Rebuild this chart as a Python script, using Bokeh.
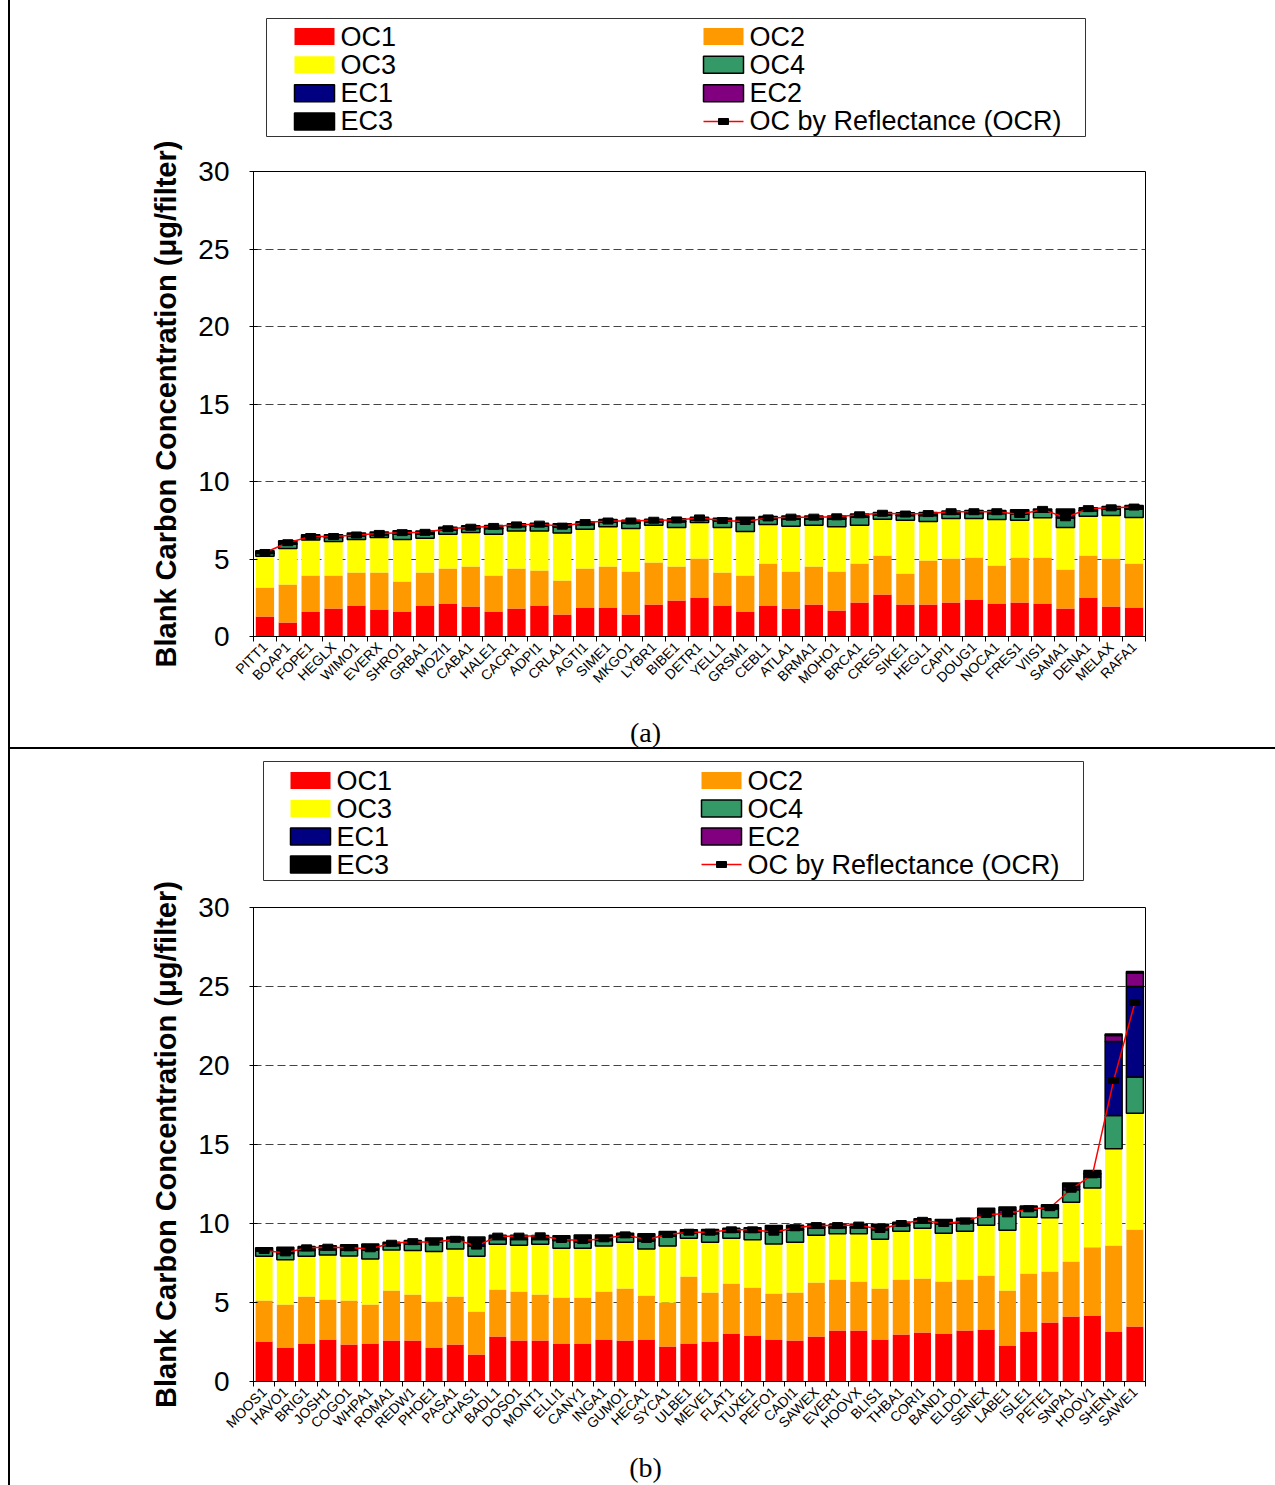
import numpy as np
from bokeh.plotting import figure
from bokeh.models import (Range1d, FixedTicker, Div, Spacer, ColumnDataSource)
from bokeh.layouts import column, row
from bokeh.core.properties import value
from bokeh.embed import file_html
from bokeh.resources import INLINE

components = ["OC1", "OC2", "OC3", "OC4", "EC1", "EC2", "EC3"]
colors = ["#FF0000", "#FF9900", "#FFFF00", "#339966", "#000080", "#800080", "#000000"]
outlined = [False, False, False, True, True, True, True]
ocr_label = "OC by Reflectance (OCR)"
y_title = "Blank Carbon Concentration (μg/filter)"
y_ticks = [0, 5, 10, 15, 20, 25, 30]
# legend entries, row by row (two columns)
legend_order = ["OC1", "OC2", "OC3", "OC4", "EC1", "EC2", "EC3", ocr_label]

# ---------------- Panel (a) ----------------
stations_a = ["PITT1", "BOAP1", "FOPE1", "HEGLX", "WIMO1", "EVERX", "SHRO1", "GRBA1",
              "MOZI1", "CABA1", "HALE1", "CACR1", "ADPI1", "CRLA1", "AGTI1", "SIME1",
              "MKGO1", "LYBR1", "BIBE1", "DETR1", "YELL1", "GRSM1", "CEBL1", "ATLA1",
              "BRMA1", "MOHO1", "BRCA1", "CRES1", "SIKE1", "HEGL1", "CAPI1", "DOUG1",
              "NOCA1", "FRES1", "VIIS1", "SAMA1", "DENA1", "MELAX", "RAFA1"]
a_OC1 = [1.29, 0.90, 1.61, 1.81, 2.00, 1.74, 1.61, 2.00, 2.13, 1.94, 1.61, 1.81, 2.00,
         1.42, 1.87, 1.87, 1.42, 2.06, 2.32, 2.52, 2.00, 1.61, 2.00, 1.81, 2.06, 1.68,
         2.19, 2.71, 2.06, 2.06, 2.19, 2.39, 2.13, 2.19, 2.13, 1.81, 2.52, 1.94, 1.87]
a_OC2 = [1.87, 2.45, 2.33, 2.13, 2.13, 2.39, 1.94, 2.13, 2.26, 2.58, 2.33, 2.58, 2.26,
         2.19, 2.52, 2.65, 2.77, 2.71, 2.20, 2.51, 2.13, 2.33, 2.71, 2.38, 2.46, 2.51,
         2.52, 2.52, 2.00, 2.84, 2.84, 2.71, 2.45, 2.91, 2.97, 2.51, 2.71, 3.09, 2.84]
a_OC3 = [2.02, 2.33, 2.28, 2.19, 2.13, 2.26, 2.71, 2.21, 2.21, 2.19, 2.66, 2.41, 2.54,
         3.06, 2.53, 2.56, 2.78, 2.41, 2.51, 2.32, 2.90, 2.83, 2.52, 2.93, 2.66, 2.89,
         2.47, 2.34, 3.44, 2.52, 2.58, 2.51, 2.97, 2.40, 2.56, 2.71, 2.53, 2.78, 2.97]
a_OC4 = [0.18, 0.28, 0.16, 0.26, 0.24, 0.18, 0.35, 0.28, 0.27, 0.25, 0.36, 0.29, 0.33,
         0.40, 0.30, 0.29, 0.34, 0.22, 0.37, 0.18, 0.42, 0.62, 0.33, 0.45, 0.40, 0.50,
         0.52, 0.25, 0.30, 0.38, 0.30, 0.33, 0.38, 0.38, 0.36, 0.62, 0.36, 0.40, 0.55]
a_EC1 = [0.01, 0.01, 0.01, 0.01, 0.01, 0.01, 0.01, 0.01, 0.01, 0.01, 0.01, 0.01, 0.01,
         0.01, 0.01, 0.01, 0.01, 0.01, 0.01, 0.01, 0.01, 0.02, 0.01, 0.01, 0.01, 0.01,
         0.01, 0.01, 0.01, 0.01, 0.01, 0.01, 0.01, 0.02, 0.01, 0.05, 0.01, 0.01, 0.01]
a_EC2 = [0.01, 0.01, 0.01, 0.01, 0.01, 0.02, 0.02, 0.02, 0.02, 0.02, 0.02, 0.02, 0.02,
         0.03, 0.02, 0.02, 0.02, 0.01, 0.02, 0.01, 0.02, 0.09, 0.02, 0.03, 0.03, 0.03,
         0.03, 0.02, 0.02, 0.03, 0.02, 0.03, 0.03, 0.10, 0.03, 0.12, 0.02, 0.02, 0.03]
a_EC3 = [0.15, 0.20, 0.16, 0.15, 0.15, 0.15, 0.18, 0.15, 0.15, 0.15, 0.17, 0.15, 0.15,
         0.16, 0.15, 0.15, 0.16, 0.15, 0.16, 0.15, 0.15, 0.20, 0.15, 0.17, 0.16, 0.16,
         0.17, 0.15, 0.15, 0.16, 0.15, 0.15, 0.16, 0.17, 0.16, 0.40, 0.15, 0.15, 0.18]
a_OCR = [5.42, 6.05, 6.45, 6.45, 6.55, 6.65, 6.70, 6.72, 6.95, 7.05, 7.10, 7.20, 7.25,
         7.12, 7.35, 7.45, 7.45, 7.50, 7.52, 7.65, 7.48, 7.42, 7.65, 7.70, 7.70, 7.72,
         7.85, 7.95, 7.90, 7.93, 8.05, 8.05, 8.05, 7.87, 8.20, 7.66, 8.25, 8.30, 8.35]

# ---------------- Panel (b) ----------------
stations_b = ["MOOS1", "HAVO1", "BRIG1", "JOSH1", "COGO1", "WHPA1", "ROMA1", "REDW1",
              "PHOE1", "PASA1", "CHAS1", "BADL1", "DOSO1", "MONT1", "ELLI1", "CANY1",
              "INGA1", "GUMO1", "HECA1", "SYCA1", "ULBE1", "MEVE1", "FLAT1", "TUXE1",
              "PEFO1", "CADI1", "SAWEX", "EVER1", "HOOVX", "BLIS1", "THBA1", "CORI1",
              "BAND1", "ELDO1", "SENEX", "LABE1", "ISLE1", "PETE1", "SNPA1", "HOOV1",
              "SHEN1", "SAWE1"]
b_OC1 = [2.53, 2.15, 2.40, 2.66, 2.34, 2.40, 2.60, 2.60, 2.15, 2.34,
         1.71, 2.85, 2.60, 2.60, 2.40, 2.40, 2.66, 2.60, 2.66, 2.22,
         2.40, 2.53, 3.04, 2.91, 2.66, 2.60, 2.85, 3.23, 3.23, 2.66,
         2.97, 3.10, 3.04, 3.23, 3.29, 2.28, 3.17, 3.73, 4.11, 4.18,
         3.16, 3.48]
b_OC2 = [2.60, 2.72, 2.98, 2.53, 2.79, 2.47, 3.16, 2.91, 2.91, 3.04,
         2.72, 2.97, 3.10, 2.91, 2.92, 2.92, 3.04, 3.29, 2.78, 2.78,
         4.25, 3.10, 3.16, 3.04, 2.91, 3.03, 3.42, 3.23, 3.10, 3.23,
         3.49, 3.42, 3.29, 3.23, 3.42, 3.48, 3.67, 3.23, 3.48, 4.32,
         5.45, 6.14]
b_OC3 = [2.80, 2.83, 2.55, 2.81, 2.82, 2.89, 2.57, 2.78, 3.17, 3.00,
         3.50, 2.87, 2.93, 3.18, 3.12, 3.12, 2.87, 2.93, 2.94, 3.57,
         2.42, 3.19, 2.87, 3.02, 3.14, 3.19, 2.99, 2.89, 3.02, 3.12,
         3.05, 3.18, 3.06, 3.05, 3.18, 3.82, 3.56, 3.40, 3.76, 3.74,
         6.12, 7.36]
b_OC4 = [0.32, 0.40, 0.36, 0.34, 0.38, 0.57, 0.27, 0.42, 0.59, 0.55,
         0.63, 0.30, 0.36, 0.30, 0.49, 0.38, 0.36, 0.32, 0.51, 0.63,
         0.32, 0.53, 0.38, 0.49, 0.74, 0.78, 0.46, 0.38, 0.38, 0.59,
         0.36, 0.34, 0.59, 0.53, 0.61, 1.03, 0.46, 0.57, 0.78, 0.70,
         2.11, 2.30]
b_EC1 = [0.01, 0.02, 0.01, 0.01, 0.01, 0.02, 0.01, 0.01, 0.01, 0.01,
         0.25, 0.01, 0.01, 0.01, 0.01, 0.02, 0.01, 0.01, 0.02, 0.01,
         0.01, 0.01, 0.01, 0.01, 0.02, 0.01, 0.01, 0.01, 0.01, 0.02,
         0.01, 0.01, 0.01, 0.01, 0.02, 0.03, 0.01, 0.01, 0.04, 0.15,
         4.68, 5.72]
b_EC2 = [0.02, 0.03, 0.02, 0.02, 0.03, 0.08, 0.02, 0.02, 0.06, 0.02,
         0.08, 0.02, 0.02, 0.02, 0.03, 0.08, 0.04, 0.02, 0.08, 0.03,
         0.02, 0.03, 0.02, 0.03, 0.05, 0.03, 0.02, 0.02, 0.02, 0.12,
         0.02, 0.03, 0.03, 0.03, 0.15, 0.22, 0.03, 0.03, 0.15, 0.08,
         0.38, 0.84]
b_EC3 = [0.18, 0.35, 0.22, 0.22, 0.28, 0.28, 0.19, 0.18, 0.20, 0.18,
         0.25, 0.24, 0.24, 0.22, 0.25, 0.36, 0.30, 0.22, 0.36, 0.25,
         0.18, 0.23, 0.22, 0.23, 0.35, 0.25, 0.19, 0.18, 0.20, 0.22,
         0.18, 0.22, 0.23, 0.26, 0.30, 0.19, 0.20, 0.21, 0.25, 0.18,
         0.10, 0.11]
b_OCR = [8.29, 8.14, 8.46, 8.50, 8.46, 8.40, 8.75, 8.85, 8.82, 9.00,
         8.57, 9.20, 9.20, 9.22, 8.99, 8.92, 9.03, 9.28, 8.99, 9.30,
         9.45, 9.45, 9.60, 9.60, 9.45, 9.73, 9.87, 9.87, 9.90, 9.62,
         10.00, 10.20, 10.00, 10.15, 10.57, 10.61, 10.93, 11.00, 12.17, 13.08,
         19.05, 23.99]

FONT = "Liberation Sans"
W = 1265          # figure width (page x 10 .. 1275)
FL, FR = 253, 1145  # frame left/right in page pixels (shared by all figures)
BL, BR = FL - 10, 1275 - FR


def make_chart(stations, comps, ocr, height, top, bottom):
    n = len(stations)
    xs = list(range(1, n + 1))
    data = dict(x=xs, OCR=ocr)
    for c, v in zip(components, comps):
        data[c] = v
    src = ColumnDataSource(data)
    p = figure(width=W, height=height, x_range=Range1d(0.5, n + 0.5),
               y_range=Range1d(0, 30), output_backend="svg", toolbar_location=None,
               min_border_left=BL, min_border_right=BR, min_border_top=top,
               min_border_bottom=bottom)
    p.outline_line_color = "black"
    p.outline_line_width = 1
    p.vbar_stack(components, x="x", width=0.8, source=src, fill_color=colors,
                 line_color=["black" if o else None for o in outlined],
                 line_width=1.5)
    p.line("x", "OCR", source=src, line_color="#FF0000", line_width=1.5)
    p.rect("x", "OCR", width=10, height=6, width_units="screen",
           height_units="screen", fill_color="black", line_color="black",
           source=src)

    xa = p.xaxis[0]
    xa.ticker = FixedTicker(ticks=xs, minor_ticks=[i + 0.5 for i in range(0, n + 1)])
    xa.major_label_overrides = {i: s for i, s in zip(xs, stations)}
    xa.major_label_orientation = np.pi / 4
    xa.major_label_text_font = FONT
    xa.major_label_text_font_size = "14px"
    xa.major_label_text_color = "black"
    xa.major_label_standoff = 3
    xa.major_tick_in = 0
    xa.major_tick_out = 0
    xa.minor_tick_in = 0
    xa.minor_tick_out = 5
    xa.minor_tick_line_color = "black"
    xa.axis_line_color = "black"

    ya = p.yaxis[0]
    ya.ticker = FixedTicker(ticks=y_ticks)
    ya.major_tick_in = 4
    ya.major_tick_out = 4
    ya.major_tick_line_color = "black"
    ya.major_label_standoff = 20
    ya.major_label_text_font = FONT
    ya.major_label_text_font_size = "28px"
    ya.major_label_text_color = "black"
    ya.axis_label = y_title
    ya.axis_label_text_font = FONT
    ya.axis_label_text_font_size = "29px"
    ya.axis_label_text_font_style = "bold"
    ya.axis_label_text_color = "black"
    ya.axis_label_standoff = 13
    ya.axis_line_color = "black"

    p.xgrid.visible = False
    p.ygrid.ticker = FixedTicker(ticks=y_ticks[1:-1])
    p.ygrid.grid_line_color = "#444444"
    p.ygrid.grid_line_dash = "8 4"
    p.ygrid.grid_line_width = 1
    return p


def pixel_fig(y0, height):
    """A strip of the page drawn in page-pixel coordinates (y grows downwards)."""
    f = figure(width=W, height=height, x_range=Range1d(FL, FR),
               y_range=Range1d(y0 + height, y0), x_axis_type=None, y_axis_type=None,
               toolbar_location=None, output_backend="svg", min_border_left=BL,
               min_border_right=BR, min_border_top=0, min_border_bottom=0)
    f.outline_line_color = None
    f.grid.visible = False
    return f


def make_legend_fig(y0, height, box_l, box_t, box_r, box_b, col_x, row_y0, pitch):
    lf = pixel_fig(y0, height)
    lf.quad(left=[box_l], right=[box_r], top=[box_t], bottom=[box_b],
            fill_color="white", line_color="#333333", line_width=1)
    gw, gh = 40, 17
    for k, name in enumerate(legend_order):
        cx = col_x[k % 2]
        cy = row_y0 + (k // 2) * pitch
        if name in components:
            i = components.index(name)
            lf.quad(left=[cx], right=[cx + gw], top=[cy - gh / 2], bottom=[cy + gh / 2],
                    fill_color=colors[i],
                    line_color="black" if outlined[i] else None, line_width=1.5)
        else:
            lf.line(x=[cx, cx + gw], y=[cy, cy], line_color="#FF0000", line_width=1.5)
            lf.rect(x=[cx + gw / 2], y=[cy], width=10, height=6, width_units="screen",
                    height_units="screen", fill_color="black", line_color="black")
        lf.text(x=[cx + gw + 6], y=[cy], text=[name], text_font=value(FONT),
                text_font_size="27px", text_baseline="middle", text_align="left",
                text_color="black")
    return lf


def make_tag_fig(y0, height, tag, cx, cy):
    tf = pixel_fig(y0, height)
    tf.text(x=[cx], y=[cy], text=[tag], text_font=value("Liberation Serif"),
            text_font_size="28px", text_baseline="middle", text_align="center",
            text_color="black")
    return tf


leg_a = make_legend_fig(0, 137, 266, 18, 1085, 136, (294, 703), 36, 28.33)
chart_a = make_chart(stations_a, [a_OC1, a_OC2, a_OC3, a_OC4, a_EC1, a_EC2, a_EC3],
                     a_OCR, 581, 34, 82)
tag_a = make_tag_fig(718, 29, "(a)", 645, 732)
sep = Div(text="", width=W, height=2, margin=(0, 0, 0, 0),
          styles={"background-color": "black"})
leg_b = make_legend_fig(749, 132, 263, 761, 1083, 880, (290, 701), 780, 28.0)
chart_b = make_chart(stations_b, [b_OC1, b_OC2, b_OC3, b_OC4, b_EC1, b_EC2, b_EC3],
                     b_OCR, 570, 26, 70)
tag_b = make_tag_fig(1451, 34, "(b)", 645, 1467)
vline = Div(text="", width=2, height=1485, margin=(0, 0, 0, 0),
            styles={"background-color": "black"})

layout = row(Spacer(width=8, height=1485), vline,
             column(leg_a, chart_a, tag_a, sep, leg_b, chart_b, tag_b, spacing=0),
             spacing=0)

open("out.html", "w").write(file_html(layout, INLINE))
